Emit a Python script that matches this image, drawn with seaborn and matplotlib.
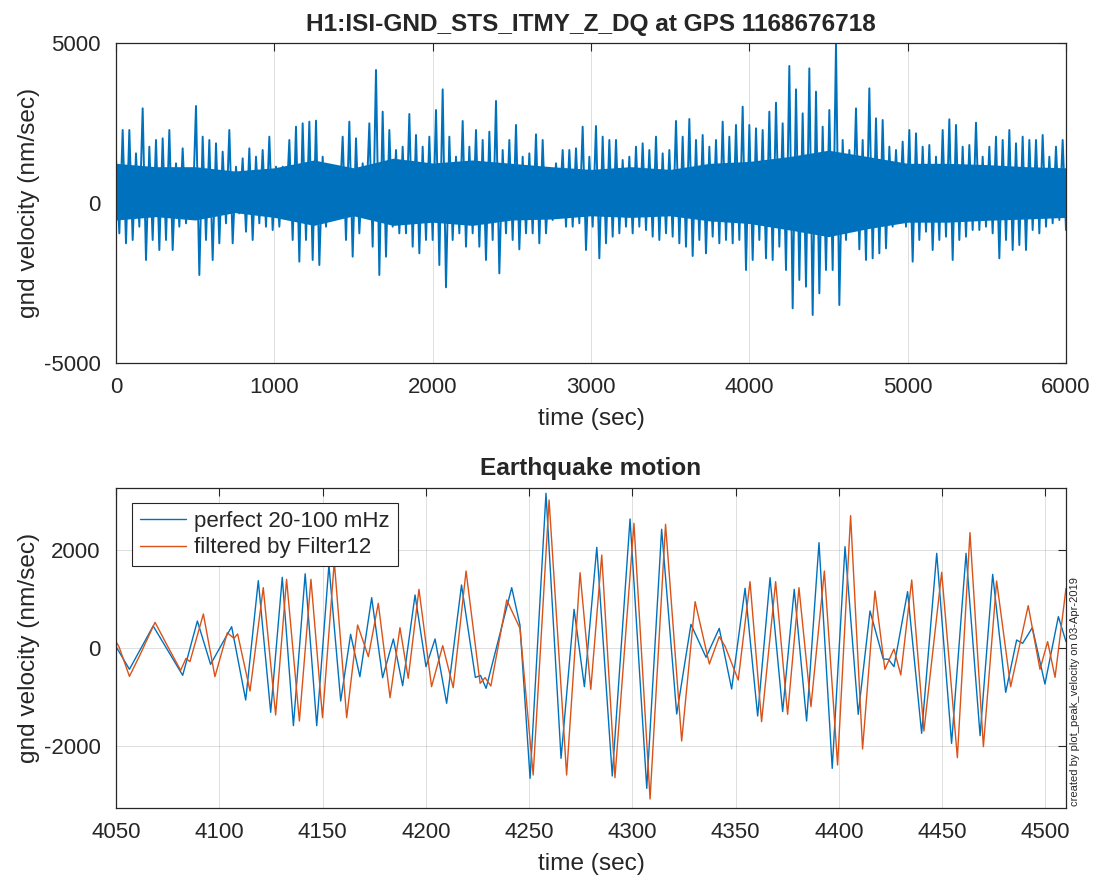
import numpy as np
import pandas as pd
import matplotlib
matplotlib.use("Agg")
import matplotlib.pyplot as plt
import seaborn as sns

BLUE = "#0072BD"
ORANGE = "#D95319"
INK = "#262626"

# ---------------- top panel: envelope of the raw record (hi / lo per ~42 s bin)
top_hi = [1396, 2281, 2281, 1552, 2958, 1760, 1969, 2021, 2281, 1240, 1708, 927,
          3031, 2073, 1969, 1865, 1604, 2281, 1135, 1396, 1708, 1448, 1656, 2073,
          1135, 1135, 1969, 2385, 2490, 2542, 2573, 1448, 927, 1031, 2073, 2542,
          2021, 1240, 2490, 4156, 2854, 2281, 1656, 1760, 2781, 2125, 1760, 2073,
          2906, 3552, 2073, 1448, 2563, 1760, 2281, 1969, 2229, 3188, 1656, 1969,
          2438, 1448, 1552, 2146, 1969, 927, 1240, 1656, 1656, 1708, 2385, 1448,
          2406, 2073, 1969, 1969, 1344, 1448, 1760, 1865, 1656, 2073, 1552, 1656,
          2563, 2073, 2625, 1969, 2125, 1760, 1969, 2542, 2073, 2438, 3010, 2438,
          2333, 2281, 2854, 3135, 2490, 4281, 3552, 2802, 4208, 3479, 2385,
          2906, 4969, 1969, 1656, 2958, 1969, 3583, 2646, 2594, 1760, 1656, 1917,
          2281, 2177, 1760, 1813, 1448, 2281, 2615, 2438, 1760, 1813, 2510, 1448,
          1760, 2073, 1969, 2281, 1865, 2073, 1969, 1969, 2125, 1448, 1760, 1969]
top_lo = [-948, -1260, -1156, -740, -1781, -1156, -1469, -1156, -1469, -740, -635, -323,
          -2250, -1156, -1781, -1260, -635, -1260, -323, -896, -1156, -635, -740, -844,
          -740, -323, -1156, -1833, -1156, -1781, -1938, -740, -219, -219, -1156, -1677,
          -948, -323, -1365, -2250, -1677, -740, -948, -948, -1365, -1573, -1156, -1156,
          -1938, -2635, -1156, -948, -1365, -948, -1365, -1781, -1156, -2198, -948, -1156,
          -1448, -948, -948, -1260, -948, -531, -323, -740, -740, -635, -1469, -740,
          -1729, -1260, -1052, -948, -740, -948, -740, -844, -1052, -1156, -948, -1052,
          -1260, -1365, -1656, -1156, -1573, -1052, -1260, -1156, -1260, -1156, -2094, -1781,
          -1156, -1729, -1781, -1365, -2094, -3292, -2406, -2615, -3500, -2823, -2094,
          -2094, -3188, -1156, -740, -1448, -1781, -1729, -1573, -1417, -740, -531, -740,
          -1833, -1156, -896, -1469, -1156, -1052, -1781, -1156, -1052, -844, -844, -740,
          -948, -1729, -1156, -1469, -1313, -1469, -844, -948, -740, -635, -531, -844]

# dense (solid-looking) core of the record, read every 250 s
core_time = [0, 250, 500, 750, 1000, 1250, 1500, 1750, 2000, 2250, 2500, 2750, 3000,
             3250, 3500, 3750, 4000, 4250, 4500, 4750, 5000, 5250, 5500, 5750, 6000]
core_hi = [1240, 1135, 1135, 1000, 1100, 1344, 1100, 1400, 1250, 1344, 1240, 1135, 1050,
           1135, 1050, 1240, 1300, 1450, 1650, 1450, 1240, 1240, 1200, 1135, 1100]
core_lo = [-531, -427, -531, -300, -450, -700, -400, -700, -600, -700, -531, -500, -400,
           -450, -400, -560, -640, -840, -1050, -800, -600, -600, -540, -500, -450]

top_xticks = [0, 1000, 2000, 3000, 4000, 5000, 6000]
top_yticks = [-5000, 0, 5000]

# ---------------- bottom panel: extrema of the two band-passed traces
blue_time = [4050.0, 4056.5, 4068.0, 4082.3, 4089.4, 4095.8, 4106.0, 4112.8, 4118.9,
             4124.9, 4130.5, 4135.9, 4141.6, 4147.2, 4153.1, 4158.8, 4163.6, 4168.1,
             4173.8, 4179.1, 4184.3, 4188.8, 4194.8, 4200.1, 4204.5, 4210.1, 4217.3,
             4224.0, 4226.5, 4229.2, 4241.6, 4245.6, 4250.5, 4258.2, 4265.5, 4271.8,
             4276.8, 4282.8, 4290.3, 4298.9, 4307.0, 4314.2, 4321.5, 4328.4, 4335.7,
             4342.1, 4348.1, 4354.6, 4360.7, 4366.7, 4372.8, 4378.4, 4384.4, 4390.4,
             4396.8, 4403.0, 4409.4, 4415.1, 4421.5, 4424.0, 4426.7, 4433.3, 4440.1,
             4447.4, 4454.6, 4461.6, 4468.4, 4474.5, 4480.8, 4486.1, 4489.0, 4493.7,
             4499.8, 4506.3, 4510.0]
blue_vel = [30, -435, 449, -557, 551, -333, 435, -1061, 1374,
            -1313, 1443, -1585, 1515, -1585, 1694, -1082, 279, -585,
            1027, -605, 184, -769, 1082, -381, 184, -1129, 1286,
            -600, -560, -823, 1231, 469, -2660, 3157, -2252, 789,
            -789, 2055, -2612, 2633, -2864, 2423, -1347, 483, -190,
            401, -837, 1218, -1388, 1435, -1299, 1197, -1490, 2150,
            -2456, 2068, -1354, 755, -224, -230, -381, 1150, -1741,
            1932, -1946, 1932, -1789, 1503, -905, 163, 95, 415,
            -735, 640, 130]

orange_time = [4050.0, 4051.5, 4056.5, 4061.6, 4068.9, 4074.5, 4081.3, 4083.9, 4085.8,
               4092.3, 4097.9, 4103.9, 4107.1, 4108.9, 4114.9, 4121.3, 4127.3, 4132.6,
               4138.8, 4144.4, 4150.0, 4155.7, 4161.7, 4167.0, 4172.2, 4177.0, 4182.7,
               4187.5, 4191.5, 4196.7, 4202.8, 4208.2, 4213.3, 4219.5, 4226.3, 4228.7,
               4231.5, 4239.2, 4245.6, 4252.0, 4259.7, 4268.2, 4274.7, 4279.9, 4285.2,
               4291.6, 4300.8, 4308.6, 4316.1, 4323.9, 4330.4, 4337.3, 4342.1, 4345.0,
               4351.3, 4357.0, 4362.6, 4369.4, 4375.2, 4380.7, 4386.5, 4393.0, 4399.4,
               4405.7, 4411.5, 4417.5, 4422.3, 4426.7, 4430.0, 4435.3, 4441.2, 4449.8,
               4457.4, 4463.5, 4470.0, 4476.4, 4483.2, 4491.7, 4497.4, 4501.1, 4504.7,
               4510.0]
orange_vel = [130, 20, -578, -143, 524, 75, -456, -211, -279,
              694, -585, 312, 197, 286, -878, 1231, -1367, 1401,
              -1490, 1401, -1422, 1762, -1422, 469, -177, 912, -1014,
              415, -619, 1197, -789, 48, -810, 1571, -721, -605,
              -776, 980, 401, -2592, 3020, -2592, 1537, -844, 1898,
              -2646, 2544, -3082, 2524, -1898, 946, -327, 231, 27,
              -653, 1354, -1503, 1354, -1354, 1231, -1197, 1571, -2388,
              2701, -2061, 1163, -435, -20, -551, 1388, -1694, 1545,
              -2239, 2354, -2014, 1367, -789, 864, -435, 130, -598,
              1218]

bot_xticks = [4050, 4100, 4150, 4200, 4250, 4300, 4350, 4400, 4450, 4500]
bot_yticks = [-2000, 0, 2000]
series_names = ["perfect 20-100 mHz", "filtered by Filter12"]

# ---------------- style
sns.set_theme(style="white")
plt.rcParams['font.family'] = ['Liberation Sans', 'DejaVu Sans']
plt.rcParams['axes.unicode_minus'] = False
plt.rcParams['axes.edgecolor'] = INK
plt.rcParams['text.color'] = INK
plt.rcParams['axes.labelcolor'] = INK
plt.rcParams['xtick.color'] = INK
plt.rcParams['ytick.color'] = INK

fig = plt.figure(figsize=(10.99, 8.84), dpi=100)
ax1 = fig.add_axes([116 / 1099, 1 - 363 / 884, 950 / 1099, 320 / 884])
ax2 = fig.add_axes([116 / 1099, 1 - 808 / 884, 950 / 1099, 320 / 884])

# top panel
n = len(top_hi)
zig = np.column_stack([np.asarray(top_hi), np.asarray(top_lo)]).ravel()
df_top = pd.DataFrame({"time": np.linspace(0, 6000, 2 * n), "vel": zig})
ax1.fill_between(core_time, core_lo, core_hi, color=BLUE, lw=0)
sns.lineplot(data=df_top, x="time", y="vel", ax=ax1, color=BLUE, lw=1.4,
             estimator=None, sort=False)

# bottom panel
df_bot = pd.concat([
    pd.DataFrame({"time": blue_time, "vel": blue_vel, "series": series_names[0]}),
    pd.DataFrame({"time": orange_time, "vel": orange_vel, "series": series_names[1]}),
])
sns.lineplot(data=df_bot, x="time", y="vel", hue="series", palette=[BLUE, ORANGE],
             ax=ax2, lw=1.0, estimator=None, sort=False)


def style(ax, xlim, ylim, xticks, yticks, title):
    ax.set_xlim(*xlim)
    ax.set_ylim(*ylim)
    ax.set_xticks(xticks)
    ax.set_yticks(yticks)
    ax.grid(True, color=INK, alpha=0.15, lw=0.7)
    ax.set_axisbelow(True)
    ax.tick_params(direction='in', top=True, right=True, length=6, width=0.8,
                   labelsize=16)
    ax.tick_params(axis='x', pad=10)
    ax.tick_params(axis='y', pad=11)
    for s in ax.spines.values():
        s.set_color(INK)
        s.set_linewidth(0.9)
    ax.set_xlabel("time (sec)", fontsize=17.6)
    ax.set_ylabel("gnd velocity (nm/sec)", fontsize=17.6)
    ax.xaxis.set_label_coords(0.5, -0.14)
    ax.yaxis.set_label_coords(-0.080, 0.5)
    ax.set_title(title, fontsize=17.6, fontweight='bold', pad=9)


style(ax1, (0, 6000), (-5000, 5000), top_xticks, top_yticks,
      "H1:ISI-GND_STS_ITMY_Z_DQ at GPS 1168676718")
style(ax2, (4050, 4510), (-3265, 3265), bot_xticks, bot_yticks, "Earthquake motion")

leg = ax2.legend(loc='upper left', bbox_to_anchor=(16 / 950, 1 - 15 / 320),
                 borderaxespad=0, fontsize=16, frameon=True, fancybox=False,
                 framealpha=1, edgecolor=INK, handlelength=2.1, handletextpad=0.35,
                 labelspacing=0.25, borderpad=0.35, title=None)
leg.get_frame().set_linewidth(0.8)
for line in leg.get_lines():
    line.set_linewidth(1.0)

fig.text(1075 / 1099, 1 - 806 / 884, "created by plot_peak_velocity on 03-Apr-2019",
         rotation=90, fontsize=8, ha='center', va='bottom', color=INK)

fig.savefig("out.png", dpi=100)
